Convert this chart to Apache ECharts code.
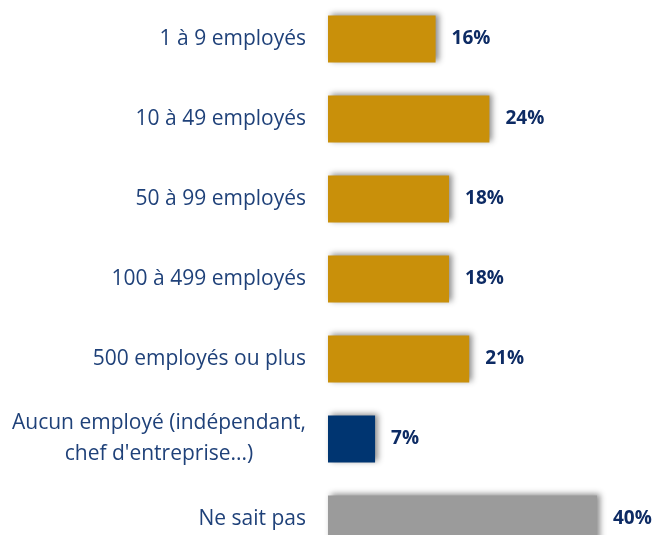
<!DOCTYPE html>
<html>
<head>
<meta charset="utf-8">
<script src="https://cdn.jsdelivr.net/npm/echarts@6/dist/echarts.min.js"></script>
<style>
  html, body { margin: 0; padding: 0; background: #fff; }
  #chart { width: 654px; height: 535px; }
</style>
</head>
<body>
<div id="chart"></div>
<script>
// catégories (du haut vers le bas)
const categories = [
  '1 à 9 employés',
  '10 à 49 employés',
  '50 à 99 employés',
  '100 à 499 employés',
  '500 employés ou plus',
  'Aucun employé (indépendant,\nchef d\'entreprise...)',
  'Ne sait pas'
];
const values = [16, 24, 18, 18, 21, 7, 40];
const barColors = ['#C9900A', '#C9900A', '#C9900A', '#C9900A', '#C9900A', '#003571', '#9B9B9B'];

const textBlue = '#1F4179';
const labelFont = 'Open Sans';

let chart = echarts.init(document.getElementById('chart'));
chart.setOption({
  animation: false,
  grid: { left: 328, top: -1, width: 269, height: 560, outerBoundsMode: 'none', containLabel: false },
  xAxis: {
    type: 'value',
    min: 0,
    max: 40,
    show: false
  },
  yAxis: {
    type: 'category',
    inverse: true,
    data: categories,
    axisLine: { show: false },
    axisTick: { show: false },
    axisLabel: {
      margin: 22,
      color: textBlue,
      fontFamily: labelFont,
      fontSize: 21,
      lineHeight: 31,
      formatter: function (v) {
        if (v.indexOf('\n') < 0) return v;
        // lignes centrées pour le libellé sur deux lignes
        return v.split('\n').map(l => '{c|' + l + '}').join('\n');
      },
      rich: {
        c: { width: 294, align: 'center', color: textBlue, fontFamily: labelFont, fontSize: 21, lineHeight: 31 }
      }
    }
  },
  series: [
    {
      type: 'bar',
      barWidth: 47,
      data: values.map((v, i) => ({
        value: v,
        itemStyle: { color: barColors[i] }
      })),
      itemStyle: {
        shadowColor: 'rgba(0,0,0,0.45)',
        shadowBlur: 6,
        shadowOffsetX: 3,
        shadowOffsetY: -2
      },
      label: {
        show: true,
        position: 'right',
        distance: 16,
        formatter: '{c}%',
        color: '#0D2B64',
        fontFamily: labelFont,
        fontWeight: 'bold',
        fontSize: 19
      }
    }
  ]
});
</script>
</body>
</html>
